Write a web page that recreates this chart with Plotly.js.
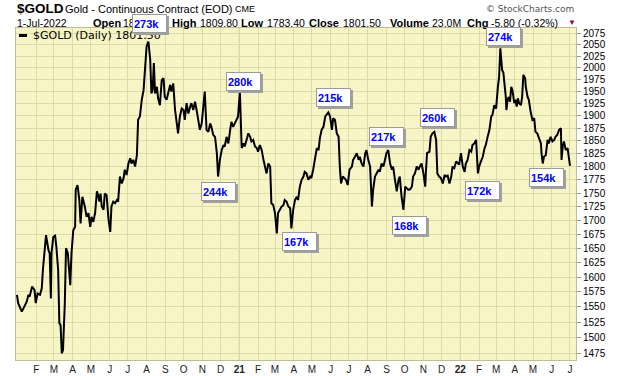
<!DOCTYPE html>
<html>
<head>
<meta charset="utf-8">
<script src="https://cdn.plot.ly/plotly-3.0.1.min.js"></script>
<style>html,body{margin:0;padding:0;background:#fff;}#chart{width:620px;height:376px;}</style>
</head>
<body>
<div id="chart"></div>
<script>
// ---- DATA ----
const dates = [
'2019-12-31','2020-01-02','2020-01-08','2020-01-13','2020-01-16','2020-01-19','2020-01-21','2020-01-25','2020-01-29','2020-01-31',
'2020-02-03','2020-02-07','2020-02-10','2020-02-12','2020-02-17','2020-02-21','2020-02-23','2020-02-25','2020-02-26','2020-02-29',
'2020-03-03','2020-03-05','2020-03-08','2020-03-10','2020-03-12','2020-03-14','2020-03-16','2020-03-19','2020-03-21','2020-03-24',
'2020-03-26','2020-03-28','2020-03-30','2020-04-02','2020-04-05','2020-04-06','2020-04-09','2020-04-12','2020-04-14','2020-04-17',
'2020-04-21','2020-04-24','2020-04-27','2020-04-30','2020-05-02','2020-05-05','2020-05-08','2020-05-11','2020-05-13','2020-05-15',
'2020-05-17','2020-05-19','2020-05-22','2020-05-24','2020-05-27','2020-05-30','2020-06-02','2020-06-04','2020-06-07','2020-06-10',
'2020-06-13','2020-06-15','2020-06-18','2020-06-21','2020-06-24','2020-06-26','2020-06-29','2020-07-02','2020-07-05','2020-07-07',
'2020-07-10','2020-07-13','2020-07-16','2020-07-18','2020-07-21','2020-07-24','2020-07-27','2020-07-29','2020-08-01','2020-08-04',
'2020-08-07','2020-08-09','2020-08-11','2020-08-13','2020-08-15','2020-08-18','2020-08-20','2020-08-23','2020-08-26','2020-08-29',
'2020-08-31','2020-09-03','2020-09-06','2020-09-09','2020-09-11','2020-09-14','2020-09-17','2020-09-20','2020-09-22','2020-09-25',
'2020-09-28','2020-10-01','2020-10-03','2020-10-06','2020-10-09','2020-10-12','2020-10-14','2020-10-17','2020-10-20','2020-10-23',
'2020-10-25','2020-10-28','2020-10-31','2020-11-03','2020-11-05','2020-11-08','2020-11-11','2020-11-14','2020-11-16','2020-11-19',
'2020-11-22','2020-11-25','2020-11-27','2020-11-30','2020-12-03','2020-12-06','2020-12-08','2020-12-11','2020-12-14','2020-12-17',
'2020-12-19','2020-12-22','2020-12-25','2020-12-28','2020-12-30','2021-01-02','2021-01-05','2021-01-08','2021-01-10','2021-01-13',
'2021-01-16','2021-01-19','2021-01-21','2021-01-24','2021-01-27','2021-01-30','2021-02-01','2021-02-04','2021-02-07','2021-02-10',
'2021-02-12','2021-02-15','2021-02-18','2021-02-21','2021-02-23','2021-02-26','2021-03-01','2021-03-04','2021-03-06','2021-03-09',
'2021-03-12','2021-03-15','2021-03-17','2021-03-20','2021-03-23','2021-03-26','2021-03-28','2021-03-31','2021-04-03','2021-04-06',
'2021-04-08','2021-04-11','2021-04-14','2021-04-17','2021-04-19','2021-04-22','2021-04-25','2021-04-28','2021-04-30','2021-05-03',
'2021-05-06','2021-05-09','2021-05-12','2021-05-14','2021-05-17','2021-05-20','2021-05-23','2021-05-25','2021-05-28','2021-05-31',
'2021-06-03','2021-06-05','2021-06-08','2021-06-11','2021-06-14','2021-06-16','2021-06-18','2021-06-21','2021-06-23','2021-06-26',
'2021-06-29','2021-07-02','2021-07-06','2021-07-08','2021-07-11','2021-07-14','2021-07-17','2021-07-19','2021-07-22','2021-07-25',
'2021-07-28','2021-07-30','2021-08-02','2021-08-05','2021-08-08','2021-08-10','2021-08-13','2021-08-16','2021-08-19','2021-08-21',
'2021-08-24','2021-08-27','2021-08-30','2021-09-01','2021-09-04','2021-09-07','2021-09-10','2021-09-12','2021-09-15','2021-09-18',
'2021-09-21','2021-09-23','2021-09-26','2021-09-29','2021-10-02','2021-10-04','2021-10-07','2021-10-10','2021-10-13','2021-10-15',
'2021-10-18','2021-10-21','2021-10-24','2021-10-26','2021-10-29','2021-11-01','2021-11-04','2021-11-05','2021-11-07','2021-11-11',
'2021-11-13','2021-11-16','2021-11-19','2021-11-22','2021-11-24','2021-11-27','2021-11-30','2021-12-03','2021-12-06','2021-12-08',
'2021-12-11','2021-12-14','2021-12-17','2021-12-19','2021-12-22','2021-12-25','2021-12-28','2021-12-30','2022-01-02','2022-01-05',
'2022-01-08','2022-01-10','2022-01-13','2022-01-16','2022-01-19','2022-01-21','2022-01-24','2022-01-27','2022-01-30','2022-02-01',
'2022-02-04','2022-02-07','2022-02-10','2022-02-12','2022-02-15','2022-02-18','2022-02-21','2022-02-23','2022-02-26','2022-03-01',
'2022-03-04','2022-03-06','2022-03-08','2022-03-11','2022-03-13','2022-03-15','2022-03-17','2022-03-18','2022-03-20','2022-03-22',
'2022-03-24','2022-03-26','2022-03-28','2022-03-31','2022-04-02','2022-04-04','2022-04-06','2022-04-08','2022-04-11','2022-04-13',
'2022-04-15','2022-04-18','2022-04-19','2022-04-22','2022-04-24','2022-04-27','2022-04-30','2022-05-03','2022-05-05','2022-05-08',
'2022-05-11','2022-05-14','2022-05-15','2022-05-17','2022-05-19','2022-05-22','2022-05-25','2022-05-27','2022-05-30','2022-06-02',
'2022-06-05','2022-06-07','2022-06-10','2022-06-13','2022-06-16','2022-06-17','2022-06-19','2022-06-21','2022-06-24','2022-06-27',
'2022-06-29','2022-07-01'
];
const goldClose = [
1570,1556,1542,1553,1558,1570,1567,1584,1578,1556,
1572,1570,1581,1615,1673,1647,1641,1564,1641,1670,
1672,1653,1612,1523,1520,1475,1480,1556,1650,1641,
1618,1586,1641,1682,1688,1756,1765,1737,1694,1743,
1725,1706,1713,1688,1706,1697,1713,1753,1746,1734,
1749,1725,1719,1749,1746,1703,1679,1725,1734,1731,
1737,1734,1781,1768,1778,1794,1784,1806,1816,1806,
1813,1800,1822,1892,1899,1933,1953,1985,2046,2057,
2017,1946,1953,2010,1946,1960,1936,1922,1974,1978,
1939,1933,1950,1964,1950,1967,1912,1878,1865,1899,
1915,1912,1892,1926,1905,1919,1926,1912,1929,1909,
1892,1872,1885,1935,1950,1872,1868,1885,1878,1862,
1858,1826,1781,1813,1832,1842,1839,1858,1845,1872,
1888,1878,1885,1892,1899,1950,1836,1845,1839,1852,
1865,1858,1849,1852,1839,1836,1829,1842,1832,1813,
1800,1787,1806,1800,1731,1728,1713,1676,1713,1719,
1725,1728,1737,1734,1725,1722,1685,1719,1737,1743,
1737,1762,1775,1781,1790,1787,1775,1781,1778,1794,
1813,1836,1832,1855,1872,1878,1899,1902,1907,1899,
1872,1895,1892,1865,1858,1800,1768,1781,1778,1775,
1765,1794,1800,1813,1819,1826,1813,1819,1806,1800,
1826,1832,1813,1800,1725,1756,1781,1787,1794,1790,
1806,1800,1813,1826,1832,1806,1794,1800,1775,1753,
1775,1781,1743,1719,1762,1759,1756,1757,1762,1781,
1787,1800,1794,1800,1806,1787,1762,1787,1826,1829,
1858,1865,1868,1852,1787,1781,1778,1768,1784,1781,
1783,1768,1781,1800,1797,1810,1806,1804,1826,1800,
1790,1806,1813,1832,1829,1842,1845,1852,1787,1800,
1810,1819,1836,1842,1858,1872,1899,1902,1922,1915,
1960,1981,2042,1995,1990,1967,1939,1912,1933,1939,
1929,1960,1953,1926,1933,1919,1936,1926,1922,1939,
1985,1978,1960,1939,1933,1909,1892,1895,1868,1865,
1855,1845,1826,1806,1819,1822,1852,1845,1858,1849,
1852,1858,1862,1872,1875,1813,1839,1849,1832,1836,
1819,1801.5
];
const yTickVals = [1475,1500,1525,1550,1575,1600,1625,1650,1675,1700,1725,1750,1775,1800,1825,1850,1875,1900,1925,1950,1975,2000,2025,2050,2075];
const yTickText = yTickVals.map(String);
const monthTicks = ['2020-02-01','2020-03-01','2020-04-01','2020-05-01','2020-06-01','2020-07-01','2020-08-01','2020-09-01','2020-10-01','2020-11-01','2020-12-01',
'2021-01-01','2021-02-01','2021-03-01','2021-04-01','2021-05-01','2021-06-01','2021-07-01','2021-08-01','2021-09-01','2021-10-01','2021-11-01','2021-12-01',
'2022-01-01','2022-02-01','2022-03-01','2022-04-01','2022-05-01','2022-06-01','2022-07-01'];
const monthLabels = ['F','M','A','M','J','J','A','S','O','N','D',
'<b>21</b>','F','M','A','M','J','J','A','S','O','N','D',
'<b>22</b>','F','M','A','M','J','J'];
const yearLines = ['2021-01-01','2022-01-01'];
const volumeLabels = ['273k','280k','244k','215k','167k','217k','168k','260k','172k','274k','154k'];

// ---- LAYOUT HELPERS ----
const L = 16, R = 576, T = 28, B = 360;
const px = v => (v - L) / (R - L);
const py = v => (B - v) / (B - T);
const ARIAL = 'Liberation Sans, Arial, sans-serif';
const VERD = 'DejaVu Sans, Verdana, sans-serif';

function txt(text, x, y, size, opts) {
  opts = opts || {};
  return {
    text: text, xref: 'paper', yref: 'paper', x: px(x), y: py(y),
    xanchor: opts.xanchor || 'left', yanchor: 'middle', showarrow: false,
    font: {family: opts.family || ARIAL, size: size, color: opts.color || '#000'}
  };
}

const annotations = [];
// header row 1
annotations.push(txt('<b>$GOLD</b>', 15, 9, 13.5));
annotations.push(txt('Gold - Continuous Contract (EOD)', 63, 9.5, 11));
annotations.push(txt('CME', 233, 9.5, 9));
annotations.push(txt('© StockCharts.com', 576, 9, 9, {xanchor: 'right', family: VERD, color: '#555'}));
// header row 2
const row2 = [
  ['1-Jul-2022', 15, false], ['Open', 91, true], ['1807.30', 121, false],
  ['High', 169.5, true], ['1809.80', 197.5, false], ['Low', 238.5, true], ['1783.40', 264.5, false],
  ['Close', 306.5, true], ['1801.50', 341, false], ['Volume', 387.5, true], ['23.0M', 429.5, false],
  ['Chg', 464.5, true], ['-5.80 (-0.32%)', 488.5, false]
];
row2.forEach(r => annotations.push(txt(r[2] ? '<b>' + r[0] + '</b>' : r[0], r[1], 22.5, r[2] ? 11 : 10.5)));
annotations.push(txt('▼', 566, 22, 8, {color: '#990033'}));
// legend
annotations.push(txt('$GOLD (Daily) 1801.50', 31, 35.5, 11, {family: VERD}));

// volume boxes
const boxPos = [[149.5,23],[243,81],[218.5,191],[333.3,98],[299,241.5],[386.3,136],[409,225.5],[437.3,117.5],[482,190],[503.7,36.7],[546.7,178]];
volumeLabels.forEach((lab, i) => {
  const [bx, by] = boxPos[i];
  const base = {
    text: '<b>' + lab + '</b>', xref: 'paper', yref: 'paper', x: px(bx), y: py(by),
    xanchor: 'center', yanchor: 'middle', showarrow: false, width: 31, height: 15,
    align: 'left', borderpad: 1, borderwidth: 1
  };
  annotations.push(Object.assign({}, base, {xshift: 2, yshift: -2, bgcolor: '#a0a0a0', bordercolor: '#a0a0a0',
    font: {family: ARIAL, size: 11, color: 'rgba(0,0,0,0)'}}));
  annotations.push(Object.assign({}, base, {bgcolor: '#ffffff', bordercolor: '#9a9a9a',
    font: {family: ARIAL, size: 11, color: '#0000ff'}}));
});

const shapes = yearLines.map(d => ({
  type: 'line', xref: 'x', yref: 'paper', x0: d, x1: d, y0: 0, y1: 1,
  line: {color: '#b9bb8c', width: 1}, layer: 'below'
}));
shapes.push({type: 'line', xref: 'paper', yref: 'paper', x0: px(19), x1: px(27), y0: py(35.5), y1: py(35.5),
  line: {color: '#000', width: 3}});

const trace = {
  x: dates, y: goldClose, type: 'scatter', mode: 'lines',
  line: {color: '#000', width: 2}, hoverinfo: 'x+y', showlegend: false
};

const layout = {
  width: 620, height: 376,
  margin: {l: L, r: 620 - R, t: T, b: 376 - B, pad: 0},
  paper_bgcolor: '#ffffff', plot_bgcolor: '#f7f5c6',
  showlegend: false,
  xaxis: {
    type: 'date', range: ['2019-12-29 10:00', '2022-07-10 22:00'],
    tickmode: 'array', tickvals: monthTicks, ticktext: monthLabels,
    showgrid: true, gridcolor: '#dcdca6', gridwidth: 1, zeroline: false,
    ticks: '', showline: true, mirror: true, linecolor: '#bdbd98', linewidth: 1,
    tickfont: {family: ARIAL, size: 10, color: '#222'}, fixedrange: true
  },
  yaxis: {
    type: 'log', side: 'right',
    range: [Math.log10(1464.5), Math.log10(2086.8)],
    tickmode: 'array', tickvals: yTickVals, ticktext: yTickText,
    showgrid: true, gridcolor: '#dcdca6', gridwidth: 1, zeroline: false,
    ticks: 'outside', ticklen: 4, tickcolor: '#999',
    showline: true, mirror: true, linecolor: '#bdbd98', linewidth: 1,
    tickfont: {family: ARIAL, size: 10, color: '#000'}, fixedrange: true
  },
  annotations: annotations,
  shapes: shapes
};

Plotly.newPlot('chart', [trace], layout, {displayModeBar: false, staticPlot: true});
</script>
</body>
</html>
